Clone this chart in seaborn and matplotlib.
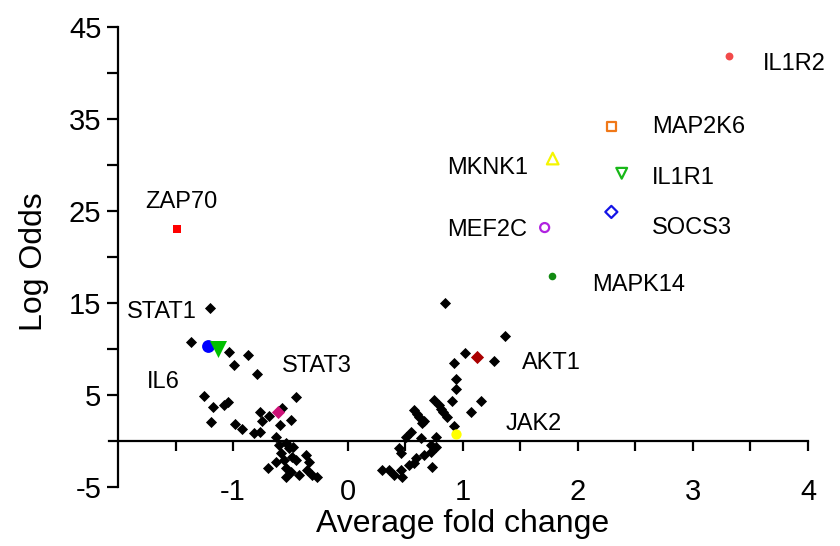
import matplotlib
matplotlib.use("Agg")
import matplotlib.pyplot as plt
from matplotlib.ticker import FixedLocator
import seaborn as sns
import pandas as pd

# ---- data ----
bg_x = [-1.20, -1.365, -1.035, -0.870, -0.988, -0.791,
        -1.252, -1.174, -1.078, -1.043, -0.449, -1.191, -0.985, -0.925, -0.817,
        -0.768, -0.768, -0.687, -0.745, -0.571, -0.499, -0.591, -0.623, -0.542,
        -0.600, -0.513, -0.585, -0.484, -0.557, -0.623, -0.455, -0.368, -0.339,
        -0.693, -0.542, -0.499, -0.426, -0.354, -0.310, -0.267, -0.542, -0.480,
        0.843, 1.362, 1.014, 1.270, 0.922, 0.936, 0.942, 0.748, 0.907, 1.154,
        1.067, 0.806, 0.864, 0.922, 0.574, 0.617, 0.646, 0.545, 0.501, 0.632,
        0.763, 0.719, 0.763, 0.443, 0.458, 0.661, 0.588, 0.719, 0.530, 0.458,
        0.357, 0.298, 0.400, 0.733, 0.574, 0.472, 0.600, 0.660, 0.790, 0.830]
bg_y = [14.5, 10.76, 9.64, 9.31, 8.26, 7.28,
        4.89, 3.73, 3.90, 4.27, 4.75, 2.03, 1.81, 1.27, 0.83,
        0.94, 3.15, 2.72, 2.21, 3.55, 2.28, 1.74, 0.47, -0.25,
        -0.43, -0.80, -1.34, -1.70, -2.07, -2.25, -2.07, -1.52, -2.25,
        -2.97, -2.97, -3.33, -3.70, -3.15, -3.70, -3.88, -3.88, -0.60,
        15.03, 11.41, 9.53, 8.73, 8.44, 6.70, 5.65, 4.46, 4.35, 4.35,
        3.19, 3.48, 2.64, 1.67, 3.37, 2.64, 1.92, 1.01, 0.47, 0.29,
        0.47, -0.43, -0.62, -0.80, -1.34, -1.52, -1.88, -1.16, -2.61, -3.15,
        -3.15, -3.15, -3.70, -2.79, -2.43, -3.88, 2.90, 2.20, 3.90, 3.10]

genes = ["IL1R2", "MAP2K6", "MKNK1", "IL1R1", "SOCS3", "MEF2C", "MAPK14",
         "ZAP70", "STAT1", "IL6", "STAT3", "AKT1", "JAK2"]
gene_x = [3.31, 2.29, 1.78, 2.38, 2.29, 1.71, 1.77,
          -1.49, -1.22, -1.13, -0.61, 1.12, 0.94]
gene_y = [41.8, 34.2, 30.7, 29.1, 24.9, 23.2, 17.9,
          23.0, 10.3, 10.0, 3.1, 9.1, 0.8]

x_ticks = [-1, 0, 1, 2, 3, 4]
y_ticks = [45, 35, 25, 15, 5, -5]

# ---- styles (not data) ----
gene_style = {
    "IL1R2":  dict(marker="o", color="#f24a4a", filled=True,  s=32),
    "MAP2K6": dict(marker="s", color="#f07818", filled=False, s=40),
    "MKNK1":  dict(marker="^", color="#f5f500", filled=False, s=70),
    "IL1R1":  dict(marker="v", color="#18b818", filled=False, s=60),
    "SOCS3":  dict(marker="D", color="#1414e6", filled=False, s=38),
    "MEF2C":  dict(marker="o", color="#b022e0", filled=False, s=42),
    "MAPK14": dict(marker="o", color="#128a12", filled=True,  s=30),
    "ZAP70":  dict(marker="s", color="#ff0000", filled=True,  s=36),
    "STAT1":  dict(marker="o", color="#0000ff", filled=True,  s=85),
    "IL6":    dict(marker="v", color="#00c000", filled=True,  s=150),
    "STAT3":  dict(marker="D", color="#cc1177", filled=True,  s=45),
    "AKT1":   dict(marker="D", color="#aa0000", filled=True,  s=45),
    "JAK2":   dict(marker="o", color="#ffff00", filled=True,  s=55),
}
label_pos = {
    "IL1R2": (3.606, 40.98), "MAP2K6": (2.646, 34.1), "MKNK1": (0.861, 29.67),
    "IL1R1": (2.646, 28.62), "SOCS3": (2.646, 23.18), "MEF2C": (0.861, 22.93),
    "MAPK14": (2.119, 16.96), "ZAP70": (-1.765, 25.96), "STAT1": (-1.925, 13.99),
    "IL6": (-1.745, 6.38), "STAT3": (-0.571, 8.2), "AKT1": (1.516, 8.45),
    "JAK2": (1.371, 1.85),
}

sns.set_style("ticks")
plt.rcParams["font.family"] = ["Liberation Sans", "DejaVu Sans"]
plt.rcParams.update({"text.color": "black", "axes.labelcolor": "black",
                     "xtick.color": "black", "ytick.color": "black",
                     "axes.edgecolor": "black"})

fig = plt.figure(figsize=(8.4, 5.46), dpi=100)
ax = fig.add_axes([118 / 840, 59 / 546, 690 / 840, 460 / 546])

bg = pd.DataFrame({"x": bg_x, "y": bg_y})
sns.scatterplot(data=bg, x="x", y="y", marker="D", color="black", s=32,
                linewidth=0, ax=ax, zorder=3)

hl = pd.DataFrame({"gene": genes, "x": gene_x, "y": gene_y})
for _, row in hl.iterrows():
    st = gene_style[row["gene"]]
    sub = hl[hl["gene"] == row["gene"]]
    if st["filled"]:
        sns.scatterplot(data=sub, x="x", y="y", marker=st["marker"], color=st["color"],
                        s=st["s"], linewidth=0, ax=ax, zorder=4)
    else:
        sns.scatterplot(data=sub, x="x", y="y", marker=st["marker"], facecolor="none",
                        edgecolor=st["color"], s=st["s"], linewidth=1.6, ax=ax, zorder=4)
    lx, ly = label_pos[row["gene"]]
    ax.text(lx, ly, row["gene"], fontsize=17, ha="left", va="center", color="black")

ax.set_xlim(-2, 4)
ax.set_ylim(-5, 45)

# axes styling
for side in ["top", "right"]:
    ax.spines[side].set_visible(False)
ax.spines["bottom"].set_position(("data", 0))
ax.spines["left"].set_linewidth(1.6)
ax.spines["bottom"].set_linewidth(1.6)
ax.spines["bottom"].set_bounds(-2.08, 4)

ax.xaxis.set_major_locator(FixedLocator(x_ticks))
ax.xaxis.set_minor_locator(FixedLocator([-1.5, -0.5, 0.5, 1.5, 2.5, 3.5]))
ax.yaxis.set_major_locator(FixedLocator(y_ticks))
ax.yaxis.set_minor_locator(FixedLocator([40, 30, 20, 10]))
ax.set_xticklabels([str(v) for v in x_ticks])
ax.set_yticklabels([str(v) for v in y_ticks])

ax.tick_params(axis="x", which="both", direction="out", length=7.5, width=1.6,
               labelsize=21, pad=19)
ax.tick_params(axis="y", which="both", direction="out", length=8, width=1.6,
               labelsize=21, pad=4)

ax.set_xlabel("Average fold change", fontsize=23)
ax.set_ylabel("Log Odds", fontsize=23)
ax.xaxis.set_label_coords(0.5, -0.08)
ax.xaxis.label.set_va("center")
ax.yaxis.set_label_coords(-0.122, 0.49)
ax.yaxis.label.set_va("center")

fig.savefig("out.png", dpi=100)
